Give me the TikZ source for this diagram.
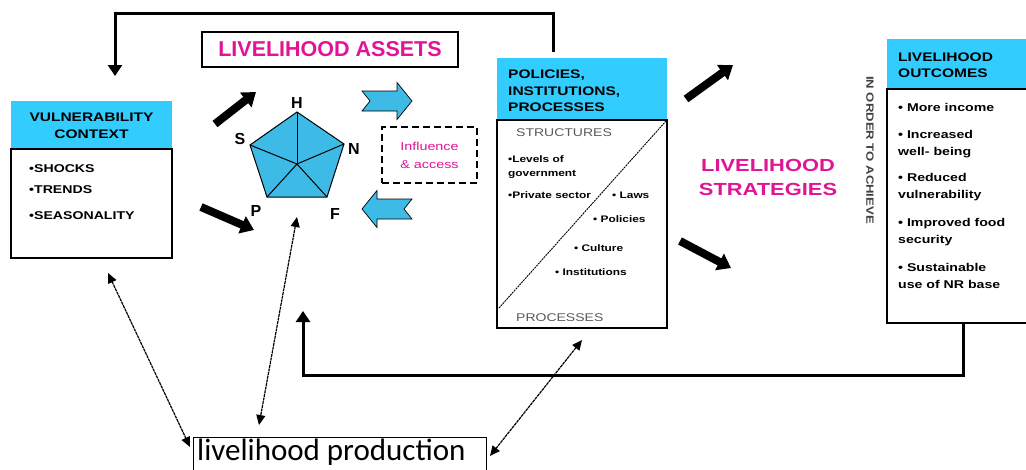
\documentclass[tikz,border=0pt]{standalone}
\usepackage{fontspec}
\setmainfont{Liberation Sans}
\newfontfamily\widesf[FakeStretch=1.25]{Liberation Sans}
\newfontfamily\calibrisf{Carlito}
\usetikzlibrary{arrows.meta}
\definecolor{headcyan}{RGB}{51,204,255}
\definecolor{pentblue}{RGB}{62,186,230}
\definecolor{pinktxt}{RGB}{226,20,150}

\tikzset{
  box/.style={draw, line width=1.2pt, inner sep=0pt},
  headbox/.style={fill=headcyan, inner sep=0pt},
  fat/.style={line width=8pt, -{Triangle[length=13pt,width=18pt]}},
  feedback/.style={line width=3pt, -{Triangle[length=11pt,width=14pt]}},
  link/.style={line width=1.2pt, dash pattern=on 3pt off 0.7pt,
    {Triangle[length=10pt,width=9pt]}-{Triangle[length=10pt,width=9pt]}},
  blockarrow/.style={fill=pentblue, draw=black, line width=0.7pt},
  headtxt/.style={font=\widesf\bfseries\fontsize{12.4}{16.5}\selectfont, align=left, inner sep=0pt},
  itemtxt/.style={font=\widesf\bfseries\fontsize{11.3}{17}\selectfont, align=left, anchor=west, inner sep=0pt},
  smalltxt/.style={font=\widesf\bfseries\fontsize{9.5}{14}\selectfont, align=left, anchor=west, inner sep=0pt},
  greytxt/.style={font=\widesf\fontsize{11.2}{13}\selectfont, text=black!65, anchor=west, inner sep=0pt},
  vertex/.style={font=\bfseries\fontsize{16}{16}\selectfont, inner sep=0pt}
}

\begin{document}
\begin{tikzpicture}[x=1pt, y=-1pt]
  \path[use as bounding box] (0,0) rectangle (1026,469);
  \clip (0,0) rectangle (1026,469);

  % vulnerability context
  \node[headbox, minimum width=161pt, minimum height=48pt] (vulnhead) at (91.5,125) {};
  \node[box, minimum width=161pt, minimum height=109pt] (vuln) at (91.5,203.5) {};
  \node[headtxt, align=center] at (91.5,126) {VULNERABILITY\\CONTEXT};
  \node[itemtxt] at (29,169) {•SHOCKS};
  \node[itemtxt] at (29,190) {•TRENDS};
  \node[itemtxt] at (29,216) {•SEASONALITY};

  % livelihood assets
  \node[box, minimum width=256pt, minimum height=35pt, text=pinktxt,
    font=\bfseries\fontsize{21.5}{21.5}\selectfont] (assets) at (330,49.5) {LIVELIHOOD ASSETS};

  % pentagon
  \coordinate (H) at (297,112);
  \coordinate (N) at (344,144);
  \coordinate (F) at (327,197);
  \coordinate (P) at (267,197);
  \coordinate (S) at (250,145);
  \coordinate (O) at (297,164);
  \filldraw[fill=pentblue, line width=1pt] (H) -- (N) -- (F) -- (P) -- (S) -- cycle;
  \foreach \v in {H,N,F,P,S} \draw[line width=1pt] (O) -- (\v);
  \node[vertex] (labH) at (297,103) {H};
  \node[vertex] (labS) at (240,139) {S};
  \node[vertex] (labN) at (354,149) {N};
  \node[vertex] (labP) at (256,211) {P};
  \node[vertex] (labF) at (335,214) {F};

  % fat arrows
  \coordinate (a1) at (215,124);
  \coordinate (a2) at (256,92);
  \coordinate (b1) at (201,207);
  \coordinate (b2) at (254,230);
  \coordinate (c1) at (686,99);
  \coordinate (c2) at (733,65);
  \coordinate (d1) at (680,241);
  \coordinate (d2) at (731,268);
  \draw[fat] (a1) -- (a2);
  \draw[fat] (b1) -- (b2);
  \draw[fat] (c1) -- (c2);
  \draw[fat] (d1) -- (d2);

  % cyan block arrows
  \begin{scope}[shift={(362,101)}]
    \draw[blockarrow] (0,-10) -- (35,-10) -- (35,-18.5) -- (50,0) -- (35,18.5) -- (35,10) -- (0,10) -- (8,0) -- cycle;
  \end{scope}
  \begin{scope}[shift={(412,209)}, xscale=-1]
    \draw[blockarrow] (0,-10) -- (35,-10) -- (35,-18.5) -- (50,0) -- (35,18.5) -- (35,10) -- (0,10) -- (8,0) -- cycle;
  \end{scope}

  % influence and access
  \node[draw, line width=1.8pt, dash pattern=on 7pt off 4pt, minimum width=95pt, minimum height=56pt,
    text=pinktxt, align=center, font=\widesf\fontsize{11.5}{18}\selectfont] (infl) at (429.5,155) {Influence\\\& access};

  % policies, institutions, processes
  \node[headbox, minimum width=170pt, minimum height=62pt] (polhead) at (582,89) {};
  \node[box, minimum width=170pt, minimum height=208pt] (pol) at (582,224) {};
  \node[headtxt, anchor=west] at (508,91) {POLICIES,\\INSTITUTIONS,\\PROCESSES};
  \coordinate (diagA) at (499,308);
  \coordinate (diagB) at (666,121);
  \draw[line width=0.9pt, dash pattern=on 2pt off 0.8pt] (diagA) -- (diagB);
  \node[greytxt] at (516,133) {STRUCTURES};
  \node[greytxt] at (516,318) {PROCESSES};
  \node[smalltxt] at (508,167) {•Levels of\\government};
  \node[smalltxt] at (508,195) {•Private sector};
  \node[smalltxt] at (612,195) {• Laws};
  \node[smalltxt] at (593,219) {• Policies};
  \node[smalltxt] at (574,248) {• Culture};
  \node[smalltxt] at (555,272) {• Institutions};

  % strategies
  \node[text=pinktxt, align=center, font=\widesf\bfseries\fontsize{17.5}{24}\selectfont] (strat) at (768,177) {LIVELIHOOD\\STRATEGIES};
  \node[rotate=-90, text=black!75, font=\widesf\bfseries\fontsize{10.5}{10.5}\selectfont] (achieve) at (870,150) {IN ORDER TO ACHIEVE};

  % livelihood outcomes
  \node[headbox, minimum width=143pt, minimum height=50pt] (outhead) at (958.5,64) {};
  \node[box, minimum width=143pt, minimum height=234pt] (out) at (958.5,206) {};
  \node[headtxt, anchor=west] at (898,65) {LIVELIHOOD\\OUTCOMES};
  \node[itemtxt] at (898,107) {• More income};
  \node[itemtxt] at (898,144.5) {• Increased\\well- being};
  \node[itemtxt] at (898,187.5) {• Reduced\\vulnerability};
  \node[itemtxt] at (898,232) {• Improved food\\security};
  \node[itemtxt] at (898,275.5) {• Sustainable\\use of NR base};

  % livelihood production
  \node[box, minimum width=293pt, minimum height=40pt, anchor=north west] (prod) at (193,437) {};
  \node[font=\calibrisf\fontsize{31}{31}\selectfont, anchor=base west, inner sep=0pt] (prodtxt) at (197,460) {livelihood production};

  % feedback loops
  \coordinate (t1) at (553,52);
  \coordinate (t2) at (553,13.5);
  \coordinate (t3) at (115,13.5);
  \coordinate (t4) at (115,76);
  \draw[feedback] (t1) -- (t2) -- (t3) -- (t4);
  \coordinate (u1) at (963,323);
  \coordinate (u2) at (963,375);
  \coordinate (u3) at (303,375);
  \coordinate (u4) at (303,311);
  \draw[feedback] (u1) -- (u2) -- (u3) -- (u4);

  % links to production
  \coordinate (l1) at (108,273);
  \coordinate (l2) at (190,447);
  \coordinate (m1) at (297,217);
  \coordinate (m2) at (259,425);
  \coordinate (n1) at (582,340);
  \coordinate (n2) at (490,456);
  \draw[link] (l1) -- (l2);
  \draw[link] (m1) -- (m2);
  \draw[link] (n1) -- (n2);
\end{tikzpicture}
\end{document}
